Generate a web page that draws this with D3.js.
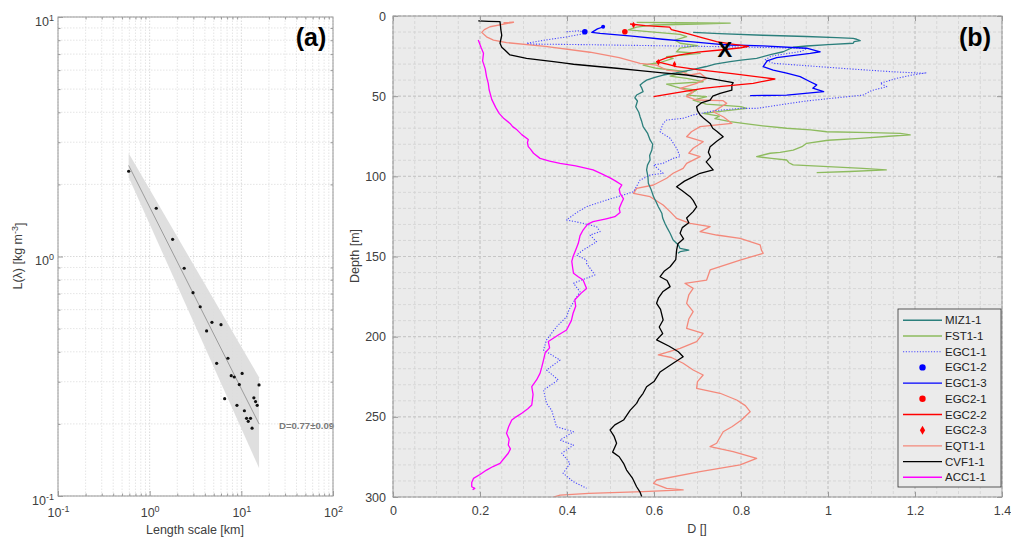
<!DOCTYPE html>
<html>
<head>
<meta charset="utf-8">
<script src="https://cdn.jsdelivr.net/npm/d3@7/dist/d3.min.js"></script>
<style>
body { margin: 0; background: #fff; }
text { font-family: "Liberation Sans", Arial, sans-serif; }
</style>
</head>
<body>
<svg id="chart" width="1011" height="537"></svg>
<script>
// =====================
// PANEL (a) : L(lambda)
// =====================
var lengthScale = [0.59, 1.18, 1.78, 2.38, 2.97, 3.56, 4.78, 4.18, 6.0, 5.38, 7.14, 7.76, 8.37,
    10.2, 9.5, 15.6, 6.58, 8.96, 10.8, 13.7, 14.3, 14.9, 11.4, 11.9, 12.6, 13.1];
var lValue = [2.27, 1.59, 1.18, 0.893, 0.706, 0.617, 0.531, 0.489, 0.519, 0.358, 0.376, 0.318, 0.314,
    0.325, 0.292, 0.291, 0.255, 0.239, 0.227, 0.257, 0.248, 0.239, 0.211, 0.205, 0.211, 0.192];
var fitX = [0.59, 15.6];
var fitY = [2.40, 0.20];
var bandUpper = [2.70, 0.313];
var bandLower = [2.14, 0.131];
var decadeTicks = [0.1, 1, 10, 100];
var slopeLabel = "D=0.77\u00b10.09";

// ========================
// PANEL (b) : D vs depth
// each profile is [D, depth]
// ========================
var dTicks = [0, 0.2, 0.4, 0.6, 0.8, 1, 1.2, 1.4];
var depthTicks = [0, 50, 100, 150, 200, 250, 300];

var MIZ1_1 = [[0.69,10.2],[0.75,11],[0.85,12],[0.95,12.8],[1.02,13.5],[1.058,14],[1.066,14.5],[1.074,15.4],
    [1.06,16],[1.058,17],[1.0,17.8],[0.951,18.7],[0.92,19.5],[0.897,22.3],[0.87,24],[0.836,26.4],[0.8,27.5],
    [0.775,28.5],[0.74,30],[0.72,31.5],[0.683,33.7],[0.65,35.5],[0.621,36.8],[0.6,38.5],[0.583,40],[0.575,41.5],
    [0.568,43],[0.572,45],[0.575,47.2],[0.56,49.3],[0.556,51],[0.562,53],[0.558,56.6],[0.565,60],[0.568,62.8],
    [0.572,66],[0.575,69],[0.585,73],[0.591,77.3],[0.597,80],[0.595,83.6],[0.59,87],[0.591,89.8],[0.585,93],
    [0.583,96],[0.586,100],[0.587,104.3],[0.593,108],[0.599,112.7],[0.605,116],[0.61,119],[0.618,123],[0.62,126],
    [0.625,129.3],[0.63,132],[0.637,135.5],[0.644,139.7],[0.656,142.8],[0.66,145],[0.68,146],[0.66,147],[0.655,148]];

var FST1_1 = [[0.56,4],[0.65,4.2],[0.775,4.5],[0.7,5],[0.60,5.6],[0.56,7],[0.541,8.7],[0.6,10],[0.66,11.5],
    [0.675,12.9],[0.648,15],[0.66,17],[0.70,18.5],[0.66,20],[0.652,22.3],[0.706,23.3],[0.629,25.4],[0.644,26.4],
    [0.614,29],[0.575,30.6],[0.606,32.6],[0.675,34.7],[0.637,37.5],[0.675,38.9],[0.713,41],[0.629,42.5],[0.66,45],
    [0.698,46.2],[0.675,49.3],[0.721,50.3],[0.69,52.4],[0.72,55],[0.80,56.5],[0.813,57.6],[0.713,60.7],[0.75,62.5],
    [0.74,64],[0.775,65.9],[0.805,67],[0.85,68.5],[0.905,70],[0.96,71],[0.997,72.2],[1.1,72.8],[1.166,73.2],
    [1.189,74.2],[1.14,75],[1.074,76.3],[1.0,77.5],[0.951,79.4],[0.94,81.5],[0.92,83.6],[0.89,85],[0.867,85.6],
    [0.836,87.7],[0.87,88.8],[0.905,89.8],[0.91,91.5],[0.92,92.9],[1.0,94],[1.08,95],[1.134,96],[1.05,97],[0.974,97.7]];

var EGC1_1 = [[0.399,9.8],[0.43,9.2],[0.44,11],[0.40,13],[0.35,15],[0.307,17],[0.32,17.5],[0.45,17.9],[0.6,18.5],
    [0.75,19.1],[0.85,19.6],[0.951,20.2],[0.94,22],[0.87,25],[0.855,27.4],[0.874,29.5],[0.95,31],[1.05,33],
    [1.15,34.8],[1.218,35.7],[1.227,35.4],[1.19,37],[1.158,38.9],[1.12,42],[1.135,44.1],[1.10,46.5],[1.081,49.3],
    [0.95,53],[0.836,57.6],[0.798,57.6],[0.74,59],[0.69,61.7],[0.667,63.8],[0.629,64.9],[0.621,67],[0.614,72.2],
    [0.637,76.3],[0.652,82.5],[0.66,87.7],[0.644,88.8],[0.621,91.9],[0.599,92.9],[0.621,98.1],[0.591,99.2],
    [0.568,102.3],[0.553,109.6],[0.530,111.6],[0.491,114.8],[0.445,118.9],[0.42,123],[0.399,127.2],[0.437,129.3],
    [0.468,131.4],[0.476,134.5],[0.453,136.6],[0.468,140.8],[0.437,146],[0.422,149.1],[0.445,152.2],[0.445,154.3],
    [0.464,161.5],[0.415,166.7],[0.43,172],[0.418,177],[0.405,183],[0.399,187.6],[0.376,193.8],[0.353,202],
    [0.346,208.3],[0.384,214.6],[0.353,220.8],[0.38,227],[0.346,233.3],[0.35,238],[0.353,241.6],[0.365,246],
    [0.369,249.9],[0.376,256.2],[0.415,259.3],[0.384,264.5],[0.415,267.6],[0.388,272.7],[0.407,279],[0.391,285.2],
    [0.415,290.5],[0.445,294.6]];

var EGC1_2 = [[0.441,9.8],[0.483,6.7]];

var EGC1_3 = [[0.484,6.7],[0.47,8],[0.457,10.2],[0.476,10.8],[0.55,12.5],[0.62,14.5],[0.683,16],[0.752,17.7],
    [0.775,18.1],[0.85,18.6],[0.951,20.1],[0.982,22.3],[0.959,23.3],[0.882,26],[0.86,28],[0.851,31.6],[0.874,33.7],
    [0.905,35.7],[0.936,37.8],[0.959,41],[0.974,43],[0.965,45],[0.99,47.2],[0.905,49.3],[0.821,49.7]];

var EGC2_1 = [[0.533,9.8]];

var EGC2_2 = [[0.545,5],[0.58,6],[0.636,7],[0.64,8.5],[0.675,10.8],[0.71,13.5],[0.744,16],[0.78,17.5],
    [0.817,19],[0.80,19.8],[0.752,21.2],[0.70,22.5],[0.66,24.3],[0.63,26],[0.606,28.5],[0.63,30],[0.652,31.6],
    [0.70,33.5],[0.78,36],[0.878,39.3],[0.828,42],[0.75,44],[0.713,45.1],[0.65,48],[0.599,50.3]];

var EGC2_3 = [[0.553,5.6],[0.61,28.9],[0.647,30.1]];

var EQT1_1 = [[0.254,4.2],[0.277,3.9],[0.255,5],[0.223,6.7],[0.21,8.5],[0.204,10.2],[0.215,13],[0.231,15],
    [0.261,16.6],[0.35,19],[0.453,22.6],[0.52,26],[0.568,29.5],[0.606,30.6],[0.629,33.7],[0.66,34.7],[0.683,36.8],
    [0.706,35.7],[0.721,38.9],[0.698,42],[0.66,45.1],[0.69,47.5],[0.675,50.3],[0.698,52.4],[0.759,52.8],
    [0.767,54.5],[0.736,59.7],[0.76,63],[0.779,67],[0.706,69],[0.686,72.2],[0.675,75.3],[0.713,78.4],[0.69,82.5],
    [0.68,85.6],[0.706,87.7],[0.675,91.9],[0.667,95],[0.644,98.1],[0.629,101.2],[0.599,105.4],[0.56,107.5],
    [0.553,110.6],[0.591,112.7],[0.621,117.9],[0.637,122],[0.652,126.2],[0.683,129.3],[0.729,131.4],[0.706,134.5],
    [0.744,136.6],[0.798,138.7],[0.844,142.8],[0.847,146],[0.851,148],[0.798,152.2],[0.729,158.4],[0.721,164.7],
    [0.671,166.7],[0.69,169.9],[0.68,174],[0.675,179.2],[0.69,184.4],[0.68,189],[0.675,194.8],[0.713,197.9],
    [0.698,203.1],[0.66,207.3],[0.610,211.4],[0.64,213],[0.667,216.6],[0.690,220.8],[0.713,223.9],[0.70,228],
    [0.698,232.2],[0.752,235.3],[0.790,239.5],[0.81,243],[0.821,246.8],[0.801,252],[0.78,256],[0.759,259.3],
    [0.744,266.5],[0.729,268.6],[0.782,271.7],[0.836,275.9],[0.798,280],[0.706,284.2],[0.606,289.4],[0.599,291.5],
    [0.629,294.6],[0.667,295.6],[0.575,296.7],[0.45,297.8],[0.384,298.8],[0.369,300]];

var CVF1_1 = [[0.196,3.1],[0.22,3.3],[0.246,3.5],[0.247,6],[0.248,8.7],[0.25,12],[0.246,17],[0.25,19.5],
    [0.257,21.2],[0.269,24.3],[0.307,26.4],[0.34,27.5],[0.369,28.5],[0.4,29.5],[0.415,30.1],[0.47,31.5],
    [0.514,32.6],[0.568,34.1],[0.62,35.5],[0.675,36.8],[0.73,39],[0.782,41.6],[0.779,43],[0.779,46.2],[0.752,48.2],
    [0.735,50],[0.729,52.4],[0.71,54],[0.698,56.6],[0.70,59],[0.706,61.7],[0.715,64],[0.729,67],[0.735,70],
    [0.745,72],[0.759,75.3],[0.745,78],[0.729,81.5],[0.725,85],[0.73,88],[0.72,91],[0.736,96],[0.706,98.1],
    [0.685,101],[0.67,103],[0.652,106.5],[0.665,109],[0.683,112.7],[0.69,115],[0.698,119],[0.69,122],[0.675,126],
    [0.68,129],[0.665,132],[0.66,135.5],[0.668,139],[0.655,142],[0.652,146],[0.65,152],[0.637,156.4],[0.624,159],
    [0.614,162.6],[0.63,165],[0.637,168.8],[0.62,172],[0.61,176],[0.606,179.2],[0.615,183],[0.621,189.6],
    [0.612,194],[0.62,198],[0.606,202],[0.635,206],[0.656,209.4],[0.667,212.5],[0.644,216.6],[0.614,222],
    [0.6,228],[0.583,231.2],[0.575,235.3],[0.565,239],[0.56,241.6],[0.545,246],[0.53,252],[0.51,255],[0.499,258.2],
    [0.508,262],[0.514,266.5],[0.505,272],[0.52,274.9],[0.53,279],[0.537,283.2],[0.55,288],[0.56,293.6],
    [0.568,297],[0.572,299.8]];

var ACC1_1 = [[0.196,15],[0.203,20],[0.208,23.3],[0.206,28],[0.212,33],[0.215,37.8],[0.219,42],[0.221,46],
    [0.227,52],[0.236,57],[0.244,60.7],[0.255,64],[0.269,67],[0.275,69],[0.285,71],[0.296,74],[0.311,77],
    [0.309,79],[0.311,81.5],[0.316,83],[0.323,85.6],[0.338,88.8],[0.36,90.5],[0.384,91.9],[0.42,93.5],[0.46,96],
    [0.48,98.5],[0.499,101],[0.512,103],[0.526,105.4],[0.52,108],[0.522,110.6],[0.53,114],[0.525,116.8],[0.52,120],
    [0.522,122.5],[0.51,125.2],[0.49,126.5],[0.46,128.3],[0.447,130],[0.437,133.5],[0.43,137],[0.426,141.8],
    [0.42,146],[0.414,150],[0.411,153],[0.413,157],[0.415,160.5],[0.425,162.5],[0.437,164.7],[0.445,169.9],
    [0.432,173],[0.418,177],[0.42,181],[0.414,185.4],[0.41,190],[0.399,195.8],[0.38,199],[0.357,203],[0.36,207],
    [0.35,210],[0.346,214.6],[0.342,219],[0.338,222.9],[0.33,227],[0.319,231.2],[0.322,236],[0.319,242.6],
    [0.31,245],[0.296,247.8],[0.283,250],[0.273,252],[0.266,256],[0.261,260.3],[0.267,264],[0.265,267.6],
    [0.27,270],[0.265,272.7],[0.255,276],[0.246,279],[0.23,281],[0.215,283.2],[0.2,286],[0.185,288.4],
    [0.181,291],[0.181,293.6],[0.188,294.6],[0.183,295.5]];

var markX = [[0.763, 20.5]];

// ===========
// STYLE TABLE
// ===========
var series = [
    { name: "MIZ1-1", data: MIZ1_1, color: "#2b7f7c", kind: "line" },
    { name: "FST1-1", data: FST1_1, color: "#8dbb5e", kind: "line" },
    { name: "EGC1-1", data: EGC1_1, color: "#4a4aff", kind: "dotted" },
    { name: "EGC1-2", data: EGC1_2, color: "#0000ff", kind: "dot" },
    { name: "EGC1-3", data: EGC1_3, color: "#0000ff", kind: "line" },
    { name: "EGC2-1", data: EGC2_1, color: "#ff0000", kind: "dot" },
    { name: "EGC2-2", data: EGC2_2, color: "#ff0000", kind: "line" },
    { name: "EGC2-3", data: EGC2_3, color: "#ff0000", kind: "diamond" },
    { name: "EQT1-1", data: EQT1_1, color: "#f4897b", kind: "line" },
    { name: "CVF1-1", data: CVF1_1, color: "#000000", kind: "line" },
    { name: "ACC1-1", data: ACC1_1, color: "#ff00ff", kind: "line" }
];
var drawOrder = ["FST1-1", "EQT1-1", "EGC1-1", "MIZ1-1", "ACC1-1", "CVF1-1", "EGC1-3", "EGC2-2",
    "EGC1-2", "EGC2-1", "EGC2-3"];

var svg = d3.select("#chart");
var tickColor = "#404040";
var boxColor = "#9a9a9a";

// ########################
// # panel (a) log-log plot
// ########################
var xA = d3.scaleLog().domain([0.1, 100]).range([58, 333]);
var yA = d3.scaleLog().domain([0.1, 10]).range([496, 17]);
var gA = svg.append("g");

// grid
var isDecade = function (v) { return Math.abs(Math.log10(v) - Math.round(Math.log10(v))) < 1e-6; };
gA.append("g").selectAll("line").data(xA.ticks()).enter().append("line")
    .attr("x1", function (d) { return xA(d); }).attr("x2", function (d) { return xA(d); })
    .attr("y1", yA(0.1)).attr("y2", yA(10))
    .attr("stroke", function (d) { return isDecade(d) ? "#cfcfcf" : "#dedede"; })
    .attr("stroke-dasharray", "1.5,1.5").attr("stroke-width", 0.8);
gA.append("g").selectAll("line").data(yA.ticks()).enter().append("line")
    .attr("y1", function (d) { return yA(d); }).attr("y2", function (d) { return yA(d); })
    .attr("x1", xA(0.1)).attr("x2", xA(100))
    .attr("stroke", function (d) { return isDecade(d) ? "#cfcfcf" : "#dedede"; })
    .attr("stroke-dasharray", "1.5,1.5").attr("stroke-width", 0.8);

// confidence band + fit
var band = [[fitX[0], bandUpper[0]], [fitX[1], bandUpper[1]], [fitX[1], bandLower[1]], [fitX[0], bandLower[0]]];
gA.append("polygon")
    .attr("points", band.map(function (p) { return xA(p[0]) + "," + yA(p[1]); }).join(" "))
    .attr("fill", "#dcdcdc").attr("opacity", 0.9);
gA.append("line")
    .attr("x1", xA(fitX[0])).attr("y1", yA(fitY[0]))
    .attr("x2", xA(fitX[1])).attr("y2", yA(fitY[1]))
    .attr("stroke", "#8a8a8a").attr("stroke-width", 0.8);
gA.append("g").selectAll("circle").data(lengthScale).enter().append("circle")
    .attr("cx", function (d) { return xA(d); })
    .attr("cy", function (d, i) { return yA(lValue[i]); })
    .attr("r", 1.6).attr("fill", "#111");
gA.append("text").attr("x", 279).attr("y", 429)
    .attr("font-size", 9.6).attr("font-weight", "bold").attr("fill", "#7a7a7a")
    .text(slopeLabel);

// box
gA.append("rect").attr("x", 58).attr("y", 17).attr("width", 275).attr("height", 479)
    .attr("fill", "none").attr("stroke", boxColor).attr("stroke-width", 1);

function styleAxis(g) {
    g.select(".domain").remove();
    g.selectAll(".tick line").attr("stroke", boxColor);
    g.selectAll(".tick text").attr("fill", tickColor);
}
function powerLabels(g) {
    g.selectAll(".tick text").each(function (d) {
        var t = d3.select(this).text(null);
        t.append("tspan").text("10");
        t.append("tspan").attr("dy", "-0.55em").attr("font-size", "0.72em").text(Math.round(Math.log10(d)));
    });
}
var minorA = xA.ticks().filter(function (d) { return !isDecade(d); });
gA.append("g").attr("transform", "translate(0,496)")
    .call(d3.axisBottom(xA).tickValues(minorA).tickSizeInner(-2.5).tickSizeOuter(0).tickFormat(""))
    .call(styleAxis);
gA.append("g").attr("transform", "translate(0,17)")
    .call(d3.axisTop(xA).tickValues(minorA).tickSizeInner(-2.5).tickSizeOuter(0).tickFormat(""))
    .call(styleAxis);
gA.append("g").attr("transform", "translate(58,0)")
    .call(d3.axisLeft(yA).tickValues(minorA.filter(function (d) { return d < 10; })).tickSizeInner(-2.5).tickSizeOuter(0).tickFormat(""))
    .call(styleAxis);
gA.append("g").attr("transform", "translate(333,0)")
    .call(d3.axisRight(yA).tickValues(minorA.filter(function (d) { return d < 10; })).tickSizeInner(-2.5).tickSizeOuter(0).tickFormat(""))
    .call(styleAxis);

gA.append("g").attr("transform", "translate(0,496)")
    .call(d3.axisBottom(xA).tickValues(decadeTicks).tickSizeInner(-5).tickSizeOuter(0).tickPadding(12))
    .call(styleAxis).call(powerLabels)
    .selectAll("text").attr("font-size", 12.5).attr("font-family", "Liberation Sans, Arial, sans-serif");
gA.append("g").attr("transform", "translate(58,0)")
    .call(d3.axisLeft(yA).tickValues(decadeTicks.slice(0, 3)).tickSizeInner(-5).tickSizeOuter(0).tickPadding(4))
    .call(styleAxis).call(powerLabels)
    .selectAll("text").attr("font-size", 12.5).attr("dy", "0.65em").attr("font-family", "Liberation Sans, Arial, sans-serif");

gA.append("text").attr("x", 195).attr("y", 534).attr("text-anchor", "middle")
    .attr("font-size", 12.5).attr("fill", tickColor).text("Length scale [km]");
var yLabA = gA.append("text").attr("transform", "translate(22,256) rotate(-90)")
    .attr("text-anchor", "middle").attr("font-size", 12.5).attr("fill", tickColor);
yLabA.append("tspan").text("L(\u03bb) [kg m");
yLabA.append("tspan").attr("dy", "-0.5em").attr("font-size", "0.72em").text("-3");
yLabA.append("tspan").attr("dy", "0.5em").text("]");

gA.append("text").attr("x", 311).attr("y", 46).attr("text-anchor", "middle")
    .attr("font-family", "DejaVu Sans, sans-serif").attr("font-weight", "bold")
    .attr("font-size", 25).text("(a)");

// ##############################
// # panel (b) fractal dimension
// ##############################
var xB = d3.scaleLinear().domain([0, 1.4]).range([393, 1002]);
var yB = d3.scaleLinear().domain([0, 300]).range([16, 497]);
var gB = svg.append("g");

gB.append("rect").attr("x", 393).attr("y", 16).attr("width", 609).attr("height", 481).attr("fill", "#ebebeb");

var minorD = d3.range(0, 1.401, 0.05);
var minorDepth = d3.range(0, 301, 10);
gB.append("g").selectAll("line").data(minorD).enter().append("line")
    .attr("x1", function (d) { return xB(d); }).attr("x2", function (d) { return xB(d); })
    .attr("y1", 16).attr("y2", 497)
    .attr("stroke", "#d2d2d2").attr("stroke-dasharray", "3,2").attr("stroke-width", 0.8);
gB.append("g").selectAll("line").data(minorDepth).enter().append("line")
    .attr("y1", function (d) { return yB(d); }).attr("y2", function (d) { return yB(d); })
    .attr("x1", 393).attr("x2", 1002)
    .attr("stroke", "#d2d2d2").attr("stroke-dasharray", "3,2").attr("stroke-width", 0.8);
gB.append("g").selectAll("line").data(dTicks).enter().append("line")
    .attr("x1", function (d) { return xB(d); }).attr("x2", function (d) { return xB(d); })
    .attr("y1", 16).attr("y2", 497)
    .attr("stroke", "#c4c4c4").attr("stroke-dasharray", "3,2").attr("stroke-width", 0.9);
gB.append("g").selectAll("line").data(depthTicks).enter().append("line")
    .attr("y1", function (d) { return yB(d); }).attr("y2", function (d) { return yB(d); })
    .attr("x1", 393).attr("x2", 1002)
    .attr("stroke", "#c4c4c4").attr("stroke-dasharray", "3,2").attr("stroke-width", 0.9);

svg.append("clipPath").attr("id", "clipB")
    .append("rect").attr("x", 393).attr("y", 16).attr("width", 609).attr("height", 481);
var plotB = gB.append("g").attr("clip-path", "url(#clipB)");

var line = d3.line()
    .x(function (d) { return xB(d[0]); })
    .y(function (d) { return yB(d[1]); });
var byName = {};
series.forEach(function (s) { byName[s.name] = s; });

drawOrder.forEach(function (name) {
    var s = byName[name];
    if (s.kind === "line" || s.kind === "dotted") {
        plotB.append("path").datum(s.data)
            .attr("d", line).attr("fill", "none")
            .attr("stroke", s.color)
            .attr("stroke-width", s.kind === "dotted" ? 1.1 : 1.3)
            .attr("stroke-dasharray", s.kind === "dotted" ? "1.2,1.6" : null)
            .attr("stroke-linejoin", "round");
    } else if (s.kind === "dot") {
        plotB.append("g").selectAll("circle").data(s.data).enter().append("circle")
            .attr("cx", function (d) { return xB(d[0]); })
            .attr("cy", function (d) { return yB(d[1]); })
            .attr("r", function (d, i) { return i === 0 ? 2.8 : 2; })
            .attr("fill", s.color);
    } else {
        plotB.append("g").selectAll("path").data(s.data).enter().append("path")
            .attr("transform", function (d) { return "translate(" + xB(d[0]) + "," + yB(d[1]) + ")"; })
            .attr("d", d3.symbol().type(d3.symbolDiamond).size(12))
            .attr("fill", s.color);
    }
});

plotB.selectAll("text.mark").data(markX).enter().append("text")
    .attr("x", function (d) { return xB(d[0]); })
    .attr("y", function (d) { return yB(d[1]) + 8; })
    .attr("text-anchor", "middle").attr("font-family", "DejaVu Sans, sans-serif")
    .attr("font-weight", "bold").attr("font-size", 22).text("X");

gB.append("rect").attr("x", 393).attr("y", 16).attr("width", 609).attr("height", 481)
    .attr("fill", "none").attr("stroke", boxColor).attr("stroke-width", 1);

gB.append("g").attr("transform", "translate(0,497)")
    .call(d3.axisBottom(xB).tickValues(dTicks).tickSizeInner(-5).tickSizeOuter(0).tickPadding(9)
        .tickFormat(d3.format("")))
    .call(styleAxis)
    .selectAll("text").attr("font-size", 12.5).attr("font-family", "Liberation Sans, Arial, sans-serif");
gB.append("g").attr("transform", "translate(0,16)")
    .call(d3.axisTop(xB).tickValues(dTicks).tickSizeInner(-5).tickSizeOuter(0).tickFormat(""))
    .call(styleAxis);
gB.append("g").attr("transform", "translate(393,0)")
    .call(d3.axisLeft(yB).tickValues(depthTicks).tickSizeInner(-5).tickSizeOuter(0).tickPadding(7))
    .call(styleAxis)
    .selectAll("text").attr("font-size", 12.5).attr("font-family", "Liberation Sans, Arial, sans-serif");
gB.append("g").attr("transform", "translate(1002,0)")
    .call(d3.axisRight(yB).tickValues(depthTicks).tickSizeInner(-5).tickSizeOuter(0).tickFormat(""))
    .call(styleAxis);

gB.append("text").attr("x", 697).attr("y", 533).attr("text-anchor", "middle")
    .attr("font-size", 12.5).attr("fill", tickColor).text("D []");
gB.append("text").attr("transform", "translate(359,256) rotate(-90)")
    .attr("text-anchor", "middle").attr("font-size", 12.5).attr("fill", tickColor).text("Depth [m]");

gB.append("text").attr("x", 975).attr("y", 46).attr("text-anchor", "middle")
    .attr("font-family", "DejaVu Sans, sans-serif").attr("font-weight", "bold")
    .attr("font-size", 25).text("(b)");

// ######
// legend
// ######
var leg = gB.append("g").attr("transform", "translate(898,309)");
leg.append("rect").attr("width", 103).attr("height", 178)
    .attr("fill", "#ebebeb").attr("stroke", "#333").attr("stroke-width", 0.8);
var rows = leg.selectAll("g.row").data(series).enter().append("g")
    .attr("transform", function (d, i) { return "translate(0," + (11.3 + i * 15.7) + ")"; });
rows.each(function (s) {
    var r = d3.select(this);
    if (s.kind === "line" || s.kind === "dotted") {
        r.append("line").attr("x1", 5).attr("x2", 44).attr("stroke", s.color)
            .attr("stroke-width", s.kind === "dotted" ? 1.1 : 1.4)
            .attr("stroke-dasharray", s.kind === "dotted" ? "1.2,1.6" : null);
    } else if (s.kind === "dot") {
        r.append("circle").attr("cx", 24.5).attr("r", 3.2).attr("fill", s.color);
    } else {
        r.append("path").attr("transform", "translate(24.5,0)")
            .attr("d", d3.symbol().type(d3.symbolDiamond).size(24)).attr("fill", s.color);
    }
    r.append("text").attr("x", 47).attr("y", 4).attr("font-size", 11.5).attr("fill", "#222").text(s.name);
});
</script>
</body>
</html>
